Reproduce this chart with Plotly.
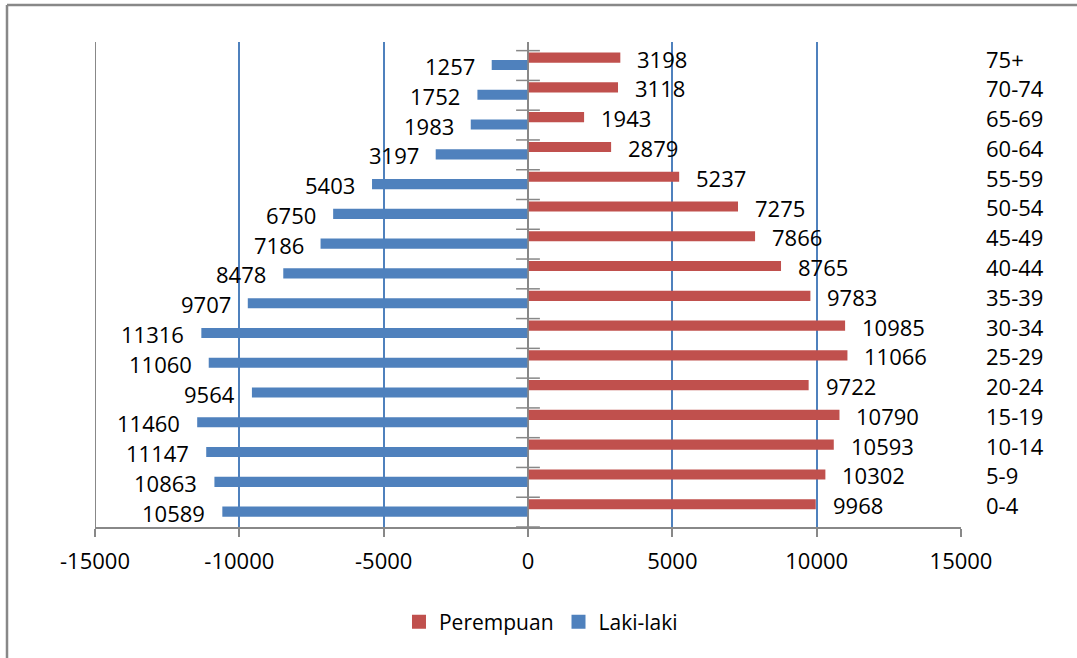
import plotly.graph_objects as go

categories = ["0-4", "5-9", "10-14", "15-19", "20-24", "25-29", "30-34", "35-39",
              "40-44", "45-49", "50-54", "55-59", "60-64", "65-69", "70-74", "75+"]
perempuan = [9968, 10302, 10593, 10790, 9722, 11066, 10985, 9783,
             8765, 7866, 7275, 5237, 2879, 1943, 3118, 3198]
laki_laki = [10589, 10863, 11147, 11460, 9564, 11060, 11316, 9707,
             8478, 7186, 6750, 5403, 3197, 1983, 1752, 1257]
x_ticks = [-15000, -10000, -5000, 0, 5000, 10000, 15000]

RED = "#C0504D"
BLUE = "#4F81BD"
GRAY = "#888888"
FONT = "Open Sans"
FS = 22

n = len(categories)
idx = list(range(n))
BW = 0.34
RED_OFF = 0.095
BLUE_OFF = -0.153

fig = go.Figure()
fig.add_bar(y=idx, x=perempuan, orientation="h", name="Perempuan", legendgroup="p",
            showlegend=False,
            marker=dict(color=RED, line=dict(width=0)), width=BW, offset=RED_OFF)
fig.add_bar(y=idx, x=[-v for v in laki_laki], orientation="h", name="Laki-laki", legendgroup="l",
            showlegend=False,
            marker=dict(color=BLUE, line=dict(width=0)), width=BW, offset=BLUE_OFF)
# legend entries with square symbols
fig.add_scatter(x=[None], y=[None], mode="markers", name="Perempuan", legendgroup="p",
                marker=dict(symbol="square", size=14, color=RED), hoverinfo="skip")
fig.add_scatter(x=[None], y=[None], mode="markers", name="Laki-laki", legendgroup="l",
                marker=dict(symbol="square", size=14, color=BLUE), hoverinfo="skip")
# category boundary tick marks crossing the vertical axis at x=0
fig.add_scatter(x=[0] * (n + 1), y=[i - 0.5 for i in range(n + 1)], mode="markers",
                marker=dict(symbol="line-ew", size=17, line=dict(color=GRAY, width=1.5)),
                showlegend=False, hoverinfo="skip", cliponaxis=False)

annotations = []
for i, v in enumerate(perempuan):
    annotations.append(dict(x=v, y=i + RED_OFF + BW / 2, xref="x", yref="y",
                            text=str(v), showarrow=False, xanchor="left",
                            xshift=15, yshift=-1, font=dict(family=FONT, size=FS, color="black")))
for i, v in enumerate(laki_laki):
    annotations.append(dict(x=-v, y=i + BLUE_OFF + BW / 2, xref="x", yref="y",
                            text=str(v), showarrow=False, xanchor="right",
                            xshift=-15, yshift=-1, font=dict(family=FONT, size=FS, color="black")))

ML, MR, MT, MB = 95, 116, 42, 131
W, H = 1077, 658
pw, ph = W - ML - MR, H - MT - MB
bx = (7 - ML) / pw
by = (H - MB - 5) / ph

shapes = [
    dict(type="line", xref="x", yref="paper", x0=-15000, x1=-15000, y0=0, y1=1,
         line=dict(color=GRAY, width=2)),
    dict(type="line", xref="x", yref="paper", x0=0, x1=0, y0=-0.018, y1=1,
         line=dict(color=GRAY, width=1.5)),
    dict(type="line", xref="paper", yref="paper", x0=bx, x1=bx, y0=-0.5, y1=by,
         line=dict(color=GRAY, width=2.5)),
    dict(type="line", xref="paper", yref="paper", x0=bx, x1=1.5, y0=by, y1=by,
         line=dict(color=GRAY, width=2.5)),
]

fig.update_layout(
    width=W, height=H,
    margin=dict(l=ML, r=MR, t=MT, b=MB),
    paper_bgcolor="white", plot_bgcolor="white",
    barmode="overlay",
    font=dict(family=FONT, size=FS, color="black"),
    showlegend=True,
    legend=dict(orientation="h", x=0.515, xanchor="center", y=-0.196, yanchor="middle",
                font=dict(family=FONT, size=21, color="black"), traceorder="normal"),
    annotations=annotations,
    shapes=shapes,
    xaxis=dict(range=[-15000, 15000], tickvals=x_ticks, ticktext=[str(t) for t in x_ticks],
               showgrid=True, gridcolor=BLUE, gridwidth=1.5,
               zeroline=True, zerolinecolor=GRAY, zerolinewidth=1.5,
               showline=True, linecolor=GRAY, linewidth=1.5,
               ticks="outside", ticklen=8, tickcolor=GRAY, tickwidth=1.5,
               ticklabelstandoff=6,
               tickfont=dict(family=FONT, size=FS, color="black")),
    yaxis=dict(range=[-0.5, 15.79], side="right",
               tickvals=[i + 0.19 for i in idx], ticktext=categories,
               showgrid=False, zeroline=False, showline=False, ticks="",
               ticklabelstandoff=24,
               tickfont=dict(family=FONT, size=FS, color="black")),
)

fig.write_html("out.html", config={"displayModeBar": False},
               post_script="document.body.style.margin='0';")
